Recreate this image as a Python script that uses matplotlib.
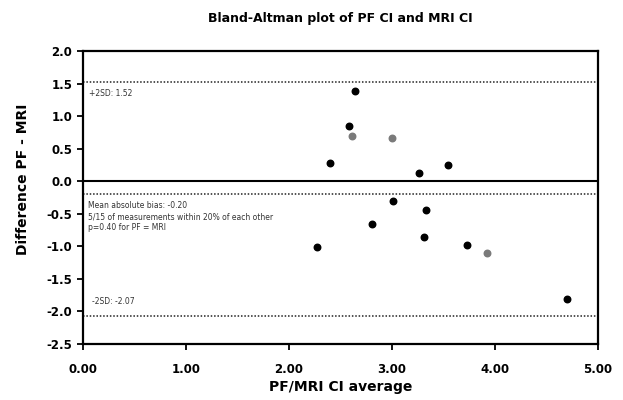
import matplotlib
matplotlib.use("Agg")
from matplotlib import pyplot as plt

# Bland-Altman points: mean of PF and MRI CI vs. difference.
black_avg = [2.64, 2.58, 2.40, 3.26, 3.54, 3.01, 3.33, 2.81, 3.31, 2.27, 3.73, 4.70]
black_diff = [1.38, 0.85, 0.27, 0.13, 0.25, -0.31, -0.45, -0.66, -0.86, -1.02, -0.98, -1.81]
gray_avg = [2.61, 3.00, 3.92]
gray_diff = [0.69, 0.66, -1.10]

upper_sd = 1.52
mean_bias = -0.20
lower_sd = -2.07

x_ticks = [0, 1, 2, 3, 4, 5]
y_ticks = [2.0, 1.5, 1.0, 0.5, 0.0, -0.5, -1.0, -1.5, -2.0, -2.5]

plt.rcParams["font.family"] = ["DejaVu Sans"]

fig = plt.figure(figsize=(6.23, 4.0), dpi=100)
ax = fig.add_axes([0.133, 0.141, 0.827, 0.7315])

ax.axhline(0, color="black", lw=1.5, zorder=2)
for v in (upper_sd, mean_bias, lower_sd):
    ax.axhline(v, color="#222222", lw=1.1, ls=(0, (1, 1.2)), zorder=2)

ax.scatter(black_avg, black_diff, s=22, marker="o", color="black", zorder=3)
ax.scatter(gray_avg, gray_diff, s=22, marker="o", color="#7a7a7a", zorder=3)

ax.set_xlim(0, 5)
ax.set_ylim(-2.5, 2.0)
ax.set_xticks(x_ticks)
ax.set_xticklabels([f"{v:.2f}" for v in x_ticks])
ax.set_yticks(y_ticks)
ax.set_yticklabels([f"{v:.1f}" for v in y_ticks])

for side in ("left", "bottom", "right", "top"):
    ax.spines[side].set_linewidth(1.6)
ax.tick_params(axis="both", direction="out", length=4, width=1.3,
               labelsize=8.5)
ax.tick_params(axis="x", pad=10)
for lbl in ax.get_xticklabels() + ax.get_yticklabels():
    lbl.set_fontweight("bold")

txt = dict(fontsize=5.5, color="#333333", ha="left", va="center")
ax.text(0.06, upper_sd - 0.17, f"+2SD: {upper_sd:.2f}", **txt)
ax.text(0.05, mean_bias - 0.18, f"Mean absolute bias: {mean_bias:.2f}", **txt)
ax.text(0.05, mean_bias - 0.35, "5/15 of measurements within 20% of each other", **txt)
ax.text(0.05, mean_bias - 0.52, "p=0.40 for PF = MRI", **txt)
ax.text(0.09, lower_sd + 0.22, f"-2SD: {lower_sd:.2f}", **txt)

ax.set_title("Bland-Altman plot of PF CI and MRI CI", fontsize=9,
             fontweight="bold", pad=21)
ax.set_xlabel("PF/MRI CI average", fontsize=10, fontweight="bold", labelpad=3)
ax.set_ylabel("Difference PF - MRI", fontsize=10, fontweight="bold")
ax.yaxis.set_label_coords(-0.103, 0.56)

fig.savefig("out.png", dpi=100)
